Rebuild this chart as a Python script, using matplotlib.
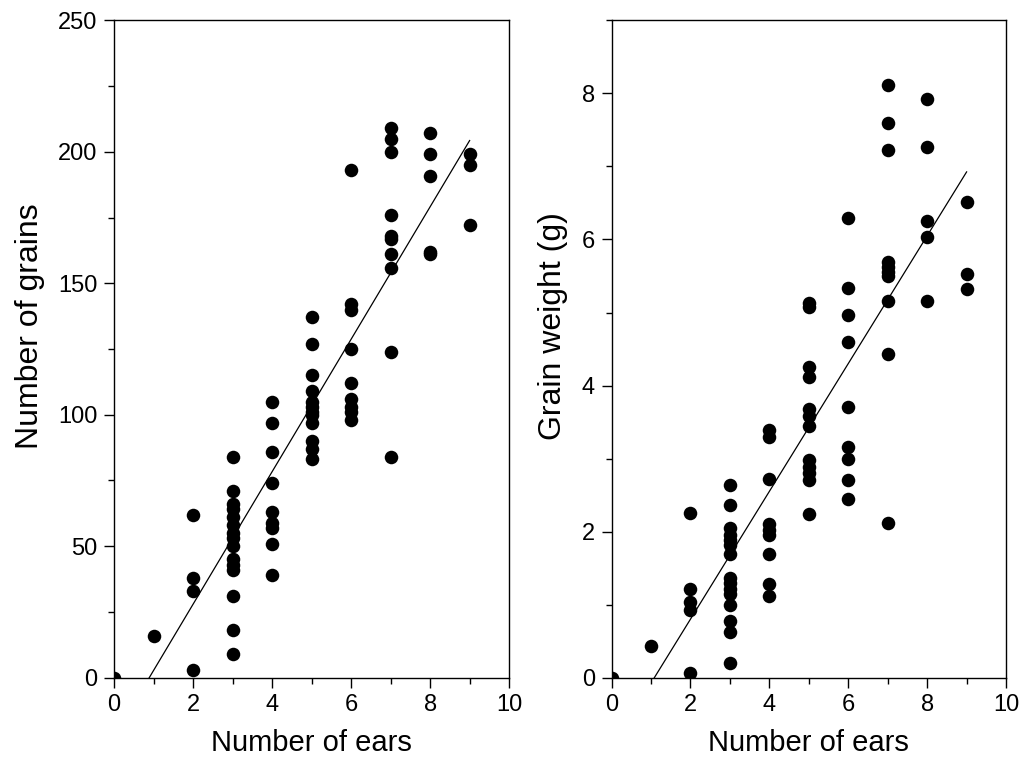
import numpy as np
import matplotlib
matplotlib.use("Agg")
import matplotlib.pyplot as plt
from matplotlib.ticker import MultipleLocator

plt.rcParams["font.family"] = ["Liberation Sans", "DejaVu Sans"]

ears_grains = [0, 1,
               2, 2, 2, 2,
               3, 3, 3, 3, 3, 3, 3, 3, 3, 3, 3, 3, 3, 3, 3,
               4, 4, 4, 4, 4, 4, 4, 4, 4,
               5, 5, 5, 5, 5, 5, 5, 5, 5, 5, 5, 5,
               6, 6, 6, 6, 6, 6, 6, 6, 6,
               7, 7, 7, 7, 7, 7, 7, 7, 7, 7,
               8, 8, 8, 8, 8,
               9, 9, 9]
grains = [0, 16,
          62, 38, 33, 3,
          84, 71, 66, 64, 61, 58, 55, 53, 50, 45, 43, 41, 31, 18, 9,
          105, 97, 86, 74, 63, 59, 57, 51, 39,
          137, 127, 115, 109, 105, 103, 101, 100, 97, 90, 87, 83,
          193, 142, 140, 125, 112, 106, 103, 101, 98,
          209, 205, 200, 176, 168, 167, 161, 156, 124, 84,
          207, 199, 191, 162, 161,
          199, 195, 172]

ears_weight = [0, 1,
               2, 2, 2, 2, 2,
               3, 3, 3, 3, 3, 3, 3, 3, 3, 3, 3, 3, 3, 3, 3,
               4, 4, 4, 4, 4, 4, 4, 4, 4,
               5, 5, 5, 5, 5, 5, 5, 5, 5, 5, 5, 5,
               6, 6, 6, 6, 6, 6, 6, 6, 6,
               7, 7, 7, 7, 7, 7, 7, 7, 7, 7,
               8, 8, 8, 8, 8,
               9, 9, 9]
weight = [0, 0.43,
          2.26, 1.22, 1.03, 0.93, 0.06,
          2.64, 2.37, 2.05, 1.96, 1.88, 1.81, 1.69, 1.37, 1.29, 1.21, 1.14, 1.0, 0.77, 0.62, 0.2,
          3.39, 3.29, 2.72, 2.1, 2.02, 1.95, 1.7, 1.28, 1.12,
          5.13, 5.07, 4.26, 4.12, 3.68, 3.58, 3.45, 2.98, 2.89, 2.8, 2.71, 2.24,
          6.3, 5.34, 4.97, 4.6, 3.71, 3.16, 2.99, 2.71, 2.44,
          8.12, 7.59, 7.23, 5.69, 5.63, 5.56, 5.5, 5.16, 4.43, 2.12,
          7.92, 7.27, 6.26, 6.03, 5.16,
          6.52, 5.53, 5.32]

fig = plt.figure(figsize=(10.29, 7.76), dpi=100)
ax1 = fig.add_axes([0.1108, 0.1267, 0.384, 0.847])
ax2 = fig.add_axes([0.5943, 0.1267, 0.3834, 0.847])


def panel(ax, x, y, ymax, ymaj, ymin, ylabel, lab_x):
    x = np.array(x, dtype=float)
    y = np.array(y, dtype=float)
    ax.scatter(x, y, s=95, color="black", zorder=3, linewidths=0)
    b, a = np.polyfit(x, y, 1)
    xx = np.array([0, x.max()])
    ax.plot(xx, a + b * xx, color="black", lw=0.9)
    ax.set_xlim(0, 10)
    ax.set_ylim(0, ymax)
    ax.xaxis.set_major_locator(MultipleLocator(2))
    ax.xaxis.set_minor_locator(MultipleLocator(1))
    ax.yaxis.set_major_locator(MultipleLocator(ymaj))
    ax.yaxis.set_minor_locator(MultipleLocator(ymin))
    ax.tick_params(which="major", direction="out", length=7, width=1,
                   labelsize=17, pad=5)
    ax.tick_params(which="minor", direction="out", length=4, width=1)
    for s in ax.spines.values():
        s.set_linewidth(1)
    ax.set_xlabel("Number of ears", fontsize=21, labelpad=9)
    ax.set_ylabel(ylabel, fontsize=23)
    ax.yaxis.set_label_coords(lab_x, 0.535)


panel(ax1, ears_grains, grains, 250, 50, 25, "Number of grains", -0.175)
panel(ax2, ears_weight, weight, 9, 2, 1, "Grain weight (g)", -0.11)

fig.savefig("out.png", dpi=100)
